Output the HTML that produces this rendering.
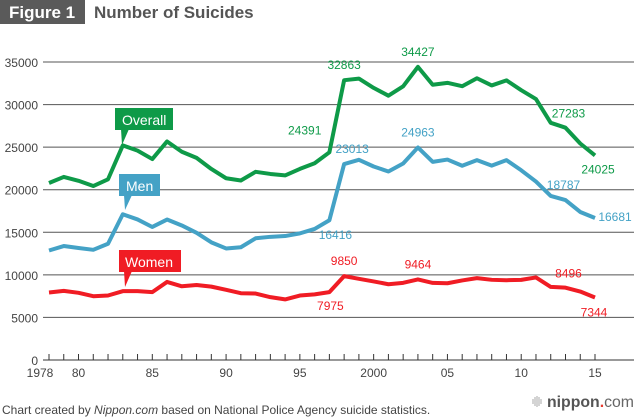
<!DOCTYPE html>
<html><head><meta charset="utf-8"><style>
body{margin:0;background:#fff;width:640px;height:420px;overflow:hidden;font-family:"Liberation Sans",sans-serif}
</style></head><body>
<svg width="640" height="420" style="position:absolute;left:0;top:0">
<rect x="0" y="0" width="85" height="24" fill="#5a5a5a"/>
<text x="9" y="18" font-size="17" font-weight="bold" fill="#fff">Figure 1</text>
<text x="94" y="18" font-size="17" font-weight="bold" fill="#555">Number of Suicides</text>
<g id="grid"></g><g id="xaxis"></g><g id="lines"></g><g id="labels"></g>
<g><rect x="115" y="108" width="58" height="22" fill="#0e9a48"/><path d="M121 129 L129 129 L122 145 Z" fill="#0e9a48"/><text x="122" y="125" font-size="14" fill="#fff">Overall</text></g>
<g><rect x="119" y="174" width="41" height="22" fill="#44a2c6"/><path d="M124 195 L132 195 L125 210 Z" fill="#44a2c6"/><text x="126" y="191" font-size="14" fill="#fff">Men</text></g>
<g><rect x="119" y="250" width="62" height="22" fill="#f01c24"/><path d="M124 271 L132 271 L125 287 Z" fill="#f01c24"/><text x="125" y="267" font-size="14" fill="#fff">Women</text></g>
<text x="2" y="414" font-size="12" fill="#444">Chart created by <tspan font-style="italic">Nippon.com</tspan> based on National Police Agency suicide statistics.</text>
<g><g stroke="#aaa" stroke-width="1"><line x1="533" y1="399" x2="533" y2="404"/><line x1="535" y1="397" x2="535" y2="406"/><line x1="537" y1="396" x2="537" y2="407"/><line x1="539" y1="397" x2="539" y2="406"/><line x1="541" y1="399" x2="541" y2="404"/></g>
<text x="547" y="407" font-size="15.5" font-weight="bold" fill="#555" textLength="87" lengthAdjust="spacingAndGlyphs">nippon<tspan fill="#e83a2e">.</tspan><tspan font-weight="normal" fill="#666">com</tspan></text></g>
</svg>
<script>
const years=[];for(let y=1978;y<=2015;y++)years.push(y);
const overall=[20788,21503,21048,20434,21228,25202,24596,23599,25667,24460,23742,22436,21346,21084,22104,21851,21679,22445,23104,24391,32863,33048,31957,31042,32143,34427,32325,32552,32155,33093,32249,32845,31690,30651,27858,27283,25427,24025];
const men=[12859,13386,13155,12942,13654,17116,16508,15624,16497,15802,14934,13818,13102,13242,14296,14468,14560,14874,15393,16416,23013,23512,22727,22144,23080,24963,23272,23540,22813,23478,22831,23472,22283,20955,19273,18787,17386,16681];
const women=[7929,8117,7893,7492,7574,8086,8088,7975,9170,8658,8808,8618,8244,7842,7808,7383,7119,7571,7711,7975,9850,9536,9230,8898,9063,9464,9053,9012,9342,9615,9418,9373,9407,9696,8585,8496,8041,7344];
const yTicks=[0,5000,10000,15000,20000,25000,30000,35000];
const xLabels=[[1978,"1978"],[1980,"80"],[1985,"85"],[1990,"90"],[1995,"95"],[2000,"2000"],[2005,"05"],[2010,"10"],[2015,"15"]];
const NS="http://www.w3.org/2000/svg";
const X=y=>49+(y-1978)*(595-49)/37;
const Y=v=>360-v*(360-62)/35000;
function mk(tag,attrs,parent,txt){const e=document.createElementNS(NS,tag);for(const k in attrs)e.setAttribute(k,attrs[k]);if(txt!==undefined)e.textContent=txt;document.getElementById(parent).appendChild(e);return e;}
yTicks.forEach(v=>{
 const l=mk('line',{x1:43,x2:634,y1:Y(v),y2:Y(v),stroke:v===0?'#333':'#555','stroke-width':1},'grid');
 
 
 const t=mk('text',{x:38,y:Y(v)+5,'text-anchor':'end','font-size':12,fill:'#444'},'grid',String(v));
 
 
});
years.forEach(y=>{
 const l=mk('line',{x1:X(y),x2:X(y),y1:360,y2:354,stroke:'#333','stroke-width':1},'xaxis');
 
 
});
xLabels.forEach(([y,s])=>{
 const t=mk('text',{x:X(y)+(s==="1978"?-9:0),y:377,'text-anchor':'middle','font-size':12,fill:'#444'},'xaxis',s);
 
 
});
[[overall,'#0e9a48','overall-line'],[men,'#44a2c6','men-line'],[women,'#f01c24','women-line']].forEach(([d,c,n])=>{
 const p=mk('polyline',{points:d.map((v,i)=>X(years[i])+','+Y(v)).join(' '),fill:'none',stroke:c,'stroke-width':4,'stroke-linejoin':'round'},'lines');
 
 
});
const ann=[[overall,1997,-8,-18,'#0e9a48','end'],[overall,1998,0,-11,'#0e9a48','middle'],[overall,2003,0,-11,'#0e9a48','middle'],[overall,2013,3,-10,'#0e9a48','middle'],[overall,2015,3,18,'#0e9a48','middle'],
[men,1998,8,-11,'#44a2c6','middle'],[men,2003,0,-11,'#44a2c6','middle'],[men,2013,-2,-11,'#44a2c6','middle'],[men,2015,20,3,'#44a2c6','middle'],[men,1997,6,19,'#44a2c6','middle'],
[women,1998,0,-11,'#f01c24','middle'],[women,2003,0,-11,'#f01c24','middle'],[women,2013,3,-10,'#f01c24','middle'],[women,2015,-1,19,'#f01c24','middle'],[women,1997,1,18,'#f01c24','middle']];
ann.forEach(([d,y,dx,dy,c,a])=>{
 const v=d[y-1978];
 const t=mk('text',{x:X(y)+dx,y:Y(v)+dy,'text-anchor':a,'font-size':12,fill:c},'labels',String(v));
 
 
});
</script>
</body></html>
